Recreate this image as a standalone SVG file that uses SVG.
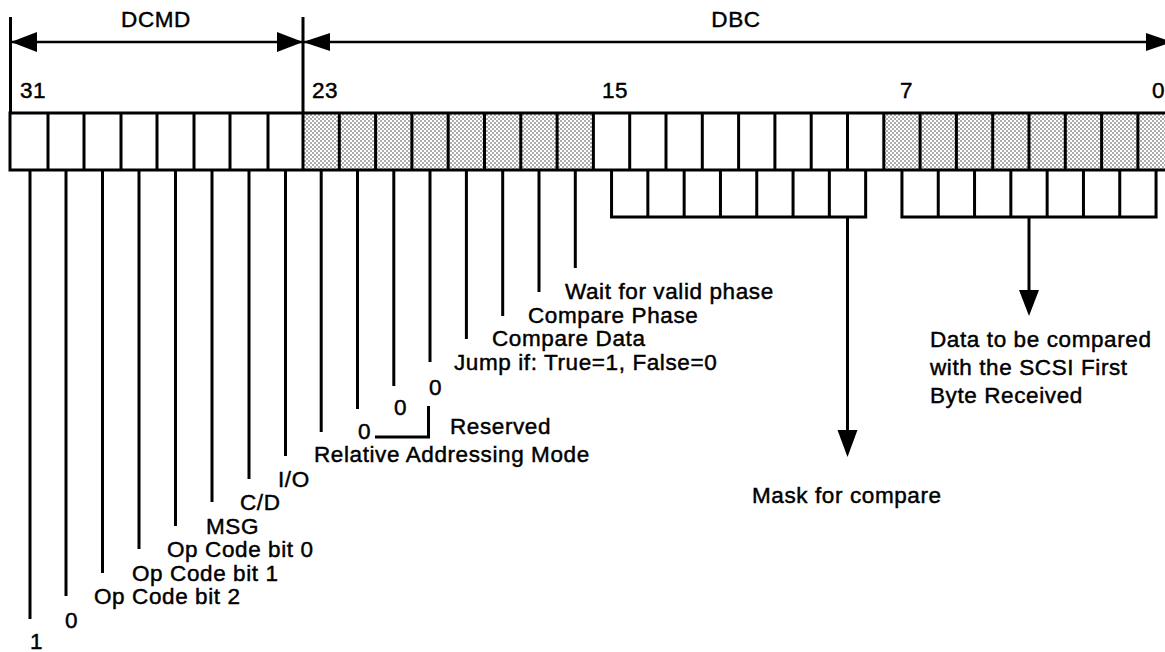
<svg xmlns="http://www.w3.org/2000/svg" width="1165" height="652" viewBox="0 0 1165 652">
<style>
text{font-family:"Liberation Sans",Arial,sans-serif;font-size:22.5px;letter-spacing:0.6px;fill:#000;stroke:#000;stroke-width:0.45px}
.ln{stroke:#000;stroke-width:3;fill:none}
.dim{stroke:#000;stroke-width:2.5;fill:none}
.cell{stroke:#000;stroke-width:3}
.ah{fill:#000;stroke:none}
</style>
<defs>
<pattern id="dots" width="4" height="4" patternUnits="userSpaceOnUse">
<rect width="4" height="4" fill="#fff"/>
<circle cx="1" cy="1" r="0.75" fill="#333"/>
<circle cx="3" cy="3" r="0.75" fill="#333"/>
</pattern>
</defs>
<rect width="1165" height="652" fill="#fff"/>

<g id="register">
<rect x="303" y="113" width="290.4" height="57" fill="url(#dots)"/>
<rect x="883.8" y="113" width="290.4" height="57" fill="url(#dots)"/>
<rect x="10" y="113" width="1164.2" height="57" fill="none" class="cell"/>
<path class="cell" d="M48 113V170M84 113V170M121 113V170M157 113V170M194 113V170M230 113V170M268 113V170M303 17V170M339.3 113V170M375.6 113V170M411.9 113V170M448.2 113V170M484.5 113V170M520.8 113V170M557.1 113V170M593.4 113V170M629.7 113V170M666 113V170M702.3 113V170M738.6 113V170M774.9 113V170M811.2 113V170M847.5 113V170M883.8 113V170M920.1 113V170M956.4 113V170M992.7 113V170M1029 113V170M1065.3 113V170M1101.6 113V170M1137.9 113V170"/>
<path class="cell" d="M10.5 17V113"/>
</g>

<g id="field-dcmd">
<text x="156" y="27" text-anchor="middle">DCMD</text>
</g>
<g id="field-dbc">
<text x="736" y="27" text-anchor="middle">DBC</text>
</g>
<g id="bit-numbers">
<text x="20" y="98">31</text>
<text x="312" y="98">23</text>
<text x="602" y="98">15</text>
<text x="900" y="98">7</text>
<text x="1152" y="98">0</text>
</g>

<g id="connectors">
<path class="dim" d="M11 42H303M303 42H1160"/>
<polygon class="ah" points="11,42 37,32 37,52"/>
<polygon class="ah" points="303,42 277,32 277,52"/>
<polygon class="ah" points="303,42 330,33 330,51"/>
<polygon class="ah" points="1172,42 1146,33 1146,51"/>
<path class="ln" d="M30 170V619M66 170V596M102.5 170V573M139 170V549M175.5 170V526M212 170V502M249 170V479M285.5 170V456M321.2 170V432M357.5 170V409M393.8 170V386M430 170V362M466.4 170V339M502.7 170V316M539 170V292M575.3 170V268"/>
<path class="ln" d="M611.55 170V217M647.85 170V217M684.15 170V217M720.45 170V217M756.75 170V217M793.05 170V217M829.35 170V217M865.65 170V217M610 217H867.2"/>
<path class="ln" d="M901.95 170V217M938.25 170V217M974.55 170V217M1010.85 170V217M1047.15 170V217M1083.45 170V217M1119.75 170V217M1156.05 170V217M900.4 217H1157.6"/>
<path class="ln" d="M847.5 217V432"/>
<polygon class="ah" points="837.5,430 857.5,430 847.5,457"/>
<path class="ln" d="M1029 217V292"/>
<polygon class="ah" points="1019,290 1039,290 1029,316"/>
<path class="ln" d="M375 437H428.5V406"/>
</g>

<g id="bit31"><text x="30" y="649">1</text></g>
<g id="bit30"><text x="65" y="628">0</text></g>
<g id="bit29"><text x="94" y="604">Op Code bit 2</text></g>
<g id="bit28"><text x="132" y="581">Op Code bit 1</text></g>
<g id="bit27"><text x="167" y="557">Op Code bit 0</text></g>
<g id="bit26"><text x="206" y="534">MSG</text></g>
<g id="bit25"><text x="240" y="510">C/D</text></g>
<g id="bit24"><text x="278" y="487">I/O</text></g>
<g id="bit23"><text x="314" y="462">Relative Addressing Mode</text></g>
<g id="bit22"><text x="358" y="439">0</text></g>
<g id="bit21"><text x="394" y="415">0</text></g>
<g id="bit20"><text x="429" y="395">0</text></g>
<g id="reserved"><text x="450" y="434">Reserved</text></g>
<g id="bit19"><text x="454" y="370">Jump if: True=1, False=0</text></g>
<g id="bit18"><text x="492" y="346">Compare Data</text></g>
<g id="bit17"><text x="528" y="323">Compare Phase</text></g>
<g id="bit16"><text x="565" y="299">Wait for valid phase</text></g>
<g id="mask"><text x="752" y="503">Mask for compare</text></g>
<g id="data">
<text x="930" y="347">Data to be compared</text>
<text x="930" y="375">with the SCSI First</text>
<text x="930" y="403">Byte Received</text>
</g>
</svg>
